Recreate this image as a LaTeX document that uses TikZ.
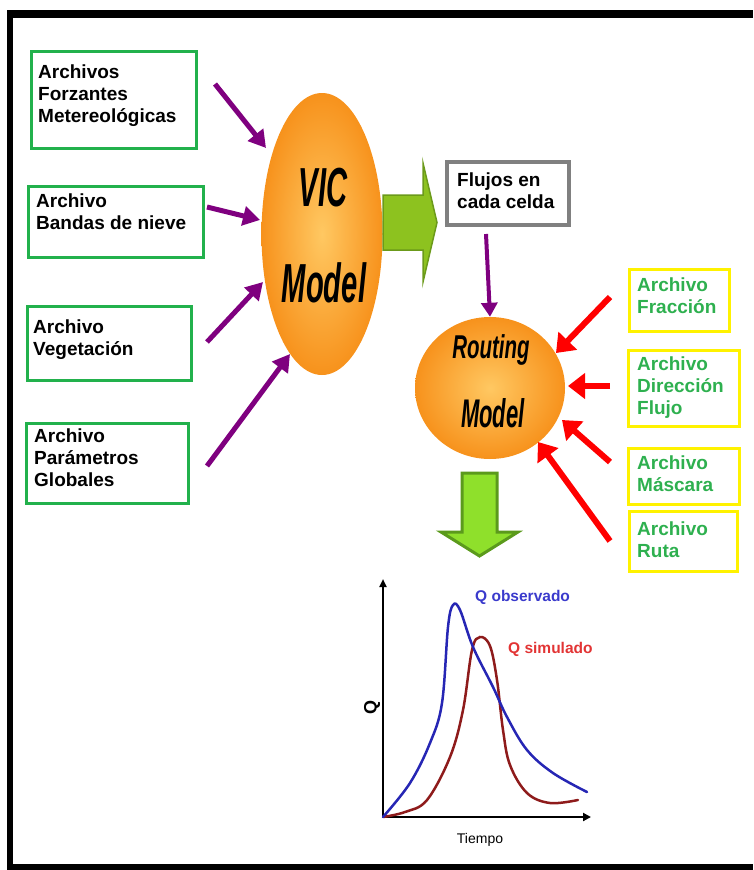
\documentclass[tikz,border=0pt]{standalone}
\usepackage{fontspec}
\setmainfont{Liberation Sans}
\usetikzlibrary{arrows.meta,shapes.geometric}
\definecolor{boxgreen}{HTML}{22B14C}
\definecolor{txtgreen}{HTML}{2EB04F}
\definecolor{purp}{HTML}{7F007F}
\definecolor{orngout}{HTML}{F7921C}
\definecolor{orngin}{HTML}{FFC862}
\definecolor{yel}{HTML}{FFF200}
\definecolor{gbox}{HTML}{808080}
\definecolor{arrgreen}{HTML}{8DC21F}
\definecolor{arrgreendk}{HTML}{6B9A1A}
\definecolor{dngreen}{HTML}{8FE02B}
\definecolor{dngreendk}{HTML}{5B9A1C}
\definecolor{qblue}{HTML}{2626B4}
\definecolor{qred}{HTML}{8E1B1B}
\definecolor{lblblue}{HTML}{3A3ACC}
\definecolor{lblred}{HTML}{E23434}
\begin{document}
\begin{tikzpicture}[x=1pt,y=-1pt,
  gbx/.style={draw=boxgreen,line width=3pt},
  ybx/.style={draw=yel,line width=3pt},
  btxt/.style={anchor=base west,inner sep=0pt,align=left,font=\fontsize{19}{22}\selectfont\bfseries},
  gtxt/.style={btxt,text=txtgreen},
  parr/.style={draw=purp,line width=5pt,-{Triangle[length=17pt,width=19pt]}},
  rarr/.style={draw=red,line width=6pt,-{Triangle[length=17pt,width=25pt]}},
  hand/.style={inner sep=0pt}
]
\useasboundingbox (0,0) rectangle (753,870);
% frame
\fill[black] (7,10) rectangle (753,18);
\fill[black] (7,10) rectangle (13,870);
\fill[black] (7,864) rectangle (753,870);

% left boxes (text anchored at baseline of last line)
\node[gbx,minimum width=165pt,minimum height=97pt,anchor=north west] (b1) at (30,50) {};
\node[btxt] (t1) at (38,122) {Archivos\\Forzantes\\Metereológicas};
\node[gbx,minimum width=175pt,minimum height=71pt,anchor=north west] (b2) at (27,185) {};
\node[btxt] (t2) at (36,229) {Archivo\\Bandas de nieve};
\node[gbx,minimum width=164pt,minimum height=74pt,anchor=north west] (b3) at (26,305) {};
\node[btxt] (t3) at (33,355) {Archivo\\Vegetación};
\node[gbx,minimum width=162pt,minimum height=80pt,anchor=north west] (b4) at (25,422) {};
\node[btxt] (t4) at (34,486) {Archivo\\Parámetros\\Globales};

% VIC ellipse
\node[ellipse,minimum width=121pt,minimum height=282pt,inner color=orngin,outer color=orngout] (vic) at (322,234) {};
\node[hand,xscale=0.53,font=\fontsize{55}{60}\selectfont\bfseries\itshape] (vict) at (323,188) {VIC};
\node[hand,xscale=0.53,font=\fontsize{55}{60}\selectfont\bfseries\itshape] (vicm) at (324,283) {Model};

% purple arrows to VIC
\coordinate (p1s) at (215,84); \coordinate (p1e) at (266,148);
\coordinate (p2s) at (207,207); \coordinate (p2e) at (260,220);
\coordinate (p3s) at (207,342); \coordinate (p3e) at (263,282);
\coordinate (p4s) at (207,466); \coordinate (p4e) at (290,354);
\draw[parr] (p1s) -- (p1e);
\draw[parr] (p2s) -- (p2e);
\draw[parr] (p3s) -- (p3e);
\draw[parr] (p4s) -- (p4e);

% big green arrow right
\filldraw[fill=arrgreen,draw=arrgreendk,line width=1.5pt,line join=miter]
  (383,195) -- (423,195) -- (423,163) -- (437,222.5) -- (423,282) -- (423,250) -- (383,250) -- cycle;

% Flujos box
\node[draw=gbox,line width=4pt,minimum width=122pt,minimum height=63pt,anchor=north west] (fb) at (445,160) {};
\node[btxt] (ft) at (457,208) {Flujos en\\cada celda};

% Routing circle
\node[ellipse,minimum width=150pt,minimum height=142pt,inner color=orngin,outer color=orngout] (rt) at (490,388) {};
\node[hand,xscale=0.62,font=\fontsize{33}{36}\selectfont\bfseries\itshape] (rtt) at (491,350) {Routing};
\node[hand,xscale=0.55,font=\fontsize{40}{44}\selectfont\bfseries\itshape] (rtm) at (493,413) {Model};

% purple arrow down
\coordinate (pds) at (486,234);
\draw[parr,line width=4pt,-{Triangle[length=14pt,width=16pt]}] (pds) -- (rt.north);

% yellow boxes
\node[ybx,minimum width=100pt,minimum height=62pt,anchor=north west] (y1) at (628,268) {};
\node[gtxt] (yt1) at (637,313) {Archivo\\Fracción};
\node[ybx,minimum width=111pt,minimum height=76pt,anchor=north west] (y2) at (627,349) {};
\node[gtxt] (yt2) at (637,414) {Archivo\\Dirección\\Flujo};
\node[ybx,minimum width=111pt,minimum height=56pt,anchor=north west] (y3) at (627,447) {};
\node[gtxt] (yt3) at (637,491) {Archivo\\Máscara};
\node[ybx,minimum width=108pt,minimum height=60pt,anchor=north west] (y4) at (628,510) {};
\node[gtxt] (yt4) at (637,557) {Archivo\\Ruta};

% red arrows
\coordinate (r1s) at (610,297); \coordinate (r1e) at (556,353);
\coordinate (r2s) at (610,386); \coordinate (r2e) at (568,386);
\coordinate (r3s) at (610,462); \coordinate (r3e) at (562,420);
\coordinate (r4s) at (610,541); \coordinate (r4e) at (538,442);
\draw[rarr] (r1s) -- (r1e);
\draw[rarr] (r2s) -- (r2e);
\draw[rarr] (r3s) -- (r3e);
\draw[rarr] (r4s) -- (r4e);

% green down arrow
\filldraw[fill=dngreen,draw=dngreendk,line width=3pt,line join=miter]
  (462,473) -- (497,473) -- (497,532) -- (518,532) -- (479.5,556) -- (441,532) -- (462,532) -- cycle;

% graph
\coordinate (o) at (383,817);
\coordinate (ytop) at (383,579);
\coordinate (xend) at (591,817);
\draw[line width=2pt,-{Triangle[length=8pt,width=7pt]}] (o) -- (ytop);
\draw[line width=2.4pt,-{Triangle[length=8pt,width=8pt]}] (o) -- (xend);
\draw[qred,line width=2.5pt,line cap=round] plot[smooth,tension=0.6] coordinates
  {(383,817) (405,812) (427,800) (450,757) (463,710) (472,650) (480,637) (490,646) (497,680) (503,730) (510,765) (527,793) (550,803) (578,800)};
\draw[qblue,line width=2.5pt,line cap=round] plot[smooth,tension=0.6] coordinates
  {(383,817) (410,783) (430,743) (442,703) (448,627) (453,605) (460,610) (473,647) (493,687) (507,717) (527,750) (553,773) (587,792)};
\node[anchor=base west,inner sep=0pt,text=lblblue,font=\fontsize{15.5}{18}\selectfont\bfseries] (qo) at (475,601) {Q observado};
\node[anchor=base west,inner sep=0pt,text=lblred,font=\fontsize{15.5}{18}\selectfont\bfseries] (qs) at (508,653) {Q simulado};
\node[inner sep=0pt,rotate=90,font=\fontsize{18}{20}\selectfont\bfseries] (ql) at (372,707) {Q};
\node[anchor=base,inner sep=0pt,font=\fontsize{14}{16}\selectfont] (tl) at (480,843) {Tiempo};
\end{tikzpicture}
\end{document}
